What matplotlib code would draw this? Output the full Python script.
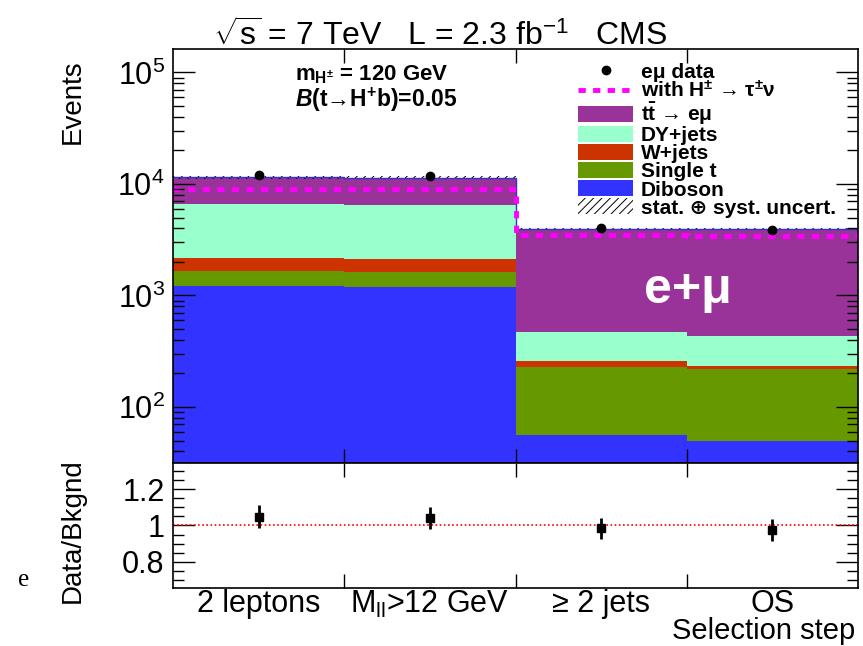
import numpy as np
import matplotlib
matplotlib.use("Agg")
import matplotlib.pyplot as plt
from matplotlib.patches import Patch
from matplotlib.lines import Line2D
from matplotlib.ticker import LogLocator, FixedLocator, FixedFormatter, MultipleLocator, NullFormatter

plt.rcParams['font.family'] = ['Liberation Sans', 'DejaVu Sans']
plt.rcParams['mathtext.fontset'] = 'custom'
plt.rcParams['mathtext.rm'] = 'Liberation Sans'
plt.rcParams['mathtext.it'] = 'Liberation Sans:italic:bold'
plt.rcParams['mathtext.bf'] = 'Liberation Sans:bold'
plt.rcParams['hatch.linewidth'] = 0.7

# selection steps
steps = ["2 leptons", "M$_{\\mathregular{ll}}$>12 GeV", "\u2265 2 jets", "OS"]

# background stack (bottom to top)
diboson = [1215, 1190, 56, 49.5]
single_t = [452, 432, 174, 172]
wjets = [493, 493, 29, 13]
dyjets = [4420, 4355, 209, 202]
ttbar = [4920, 4880, 3482, 3493]

# data and signal expectation
data = [12000, 11850, 4000, 3880]
with_hplus = [9000, 9000, 3480, 3420]
syst_frac = [0.03, 0.03, 0.025, 0.025]

# ratio panel
ratio = [1.049, 1.042, 0.985, 0.974]
ratio_err = [0.064, 0.062, 0.058, 0.060]

colors = {"Diboson": "#3333ff", "Single t": "#669900", "W+jets": "#cc3300",
          "DY+jets": "#99ffcc", "tt": "#993399"}

edges = np.arange(len(steps) + 1)
centers = edges[:-1] + 0.5

fig = plt.figure(figsize=(8.63, 6.46), dpi=100)
ax = fig.add_axes([0.2005, 0.2833, 0.7937, 0.6408])
rax = fig.add_axes([0.2005, 0.0898, 0.7937, 0.1935])

stack = [("Diboson", diboson), ("Single t", single_t), ("W+jets", wjets),
         ("DY+jets", dyjets), ("tt", ttbar)]
bottom = np.zeros(len(steps))
for name, vals in stack:
    vals = np.array(vals, dtype=float)
    ax.stairs(bottom + vals, edges, baseline=bottom, fill=True,
              color=colors[name], lw=0)
    bottom = bottom + vals
total = bottom

# uncertainty band
sf = np.array(syst_frac)
ax.stairs(total * (1 + sf), edges, baseline=total * (1 - sf), fill=True,
          facecolor="none", edgecolor="black", hatch="////", lw=0)
ax.stairs(total, edges, baseline=None, color="#3333cc", lw=1)

# signal
ax.stairs(with_hplus, edges, baseline=None, color="#ff00ff", lw=3.5, ls=(0, (1.5, 1.5)))

# data
ax.plot(centers, data, "o", color="black", ms=6)

ax.set_yscale("log")
ax.set_ylim(31.5, 1.62e5)
ax.set_xlim(0, 4)
ax.yaxis.set_major_locator(LogLocator(base=10, numticks=10))
ax.yaxis.set_minor_locator(LogLocator(base=10, subs=np.arange(2, 10), numticks=20))
ax.yaxis.set_minor_formatter(NullFormatter())
ax.xaxis.set_major_locator(FixedLocator(edges[1:-1]))
ax.set_xticklabels([])
ax.tick_params(axis="both", which="both", direction="in", top=True, right=True)
ax.tick_params(axis="y", which="major", length=16, width=1, labelsize=22, pad=6)
ax.tick_params(axis="y", which="minor", length=8, width=1)
ax.tick_params(axis="x", which="major", length=10, width=1)
ax.set_ylabel("Events", fontsize=20, loc="top")
ax.yaxis.set_label_coords(-0.128, 0.975)
for s in ax.spines.values():
    s.set_linewidth(1.2)

# ratio panel
rax.axhline(1.0, color="red", ls=(0, (1, 1.5)), lw=1.2)
rax.errorbar(centers, ratio, yerr=ratio_err, fmt="s", color="black", ms=6,
             elinewidth=2, capsize=0)
rax.set_xlim(0, 4)
rax.set_ylim(0.655, 1.345)
rax.yaxis.set_major_locator(FixedLocator([0.8, 1.0, 1.2]))
rax.set_yticklabels(["0.8", "1", "1.2"])
rax.yaxis.set_minor_locator(MultipleLocator(0.05))
rax.xaxis.set_major_locator(FixedLocator(edges[1:-1]))
rax.xaxis.set_minor_locator(FixedLocator(centers))
rax.set_xticklabels([])
rax.xaxis.set_minor_formatter(FixedFormatter(steps))
rax.tick_params(axis="both", which="both", direction="in", top=True, right=True)
rax.tick_params(axis="y", which="major", length=16, width=1, labelsize=22, pad=6)
rax.tick_params(axis="y", which="minor", length=8, width=1)
rax.tick_params(axis="x", which="major", length=10, width=1)
rax.tick_params(axis="x", which="minor", length=0, labelsize=22, pad=1)
rax.set_ylabel("Data/Bkgnd", fontsize=20)
rax.yaxis.set_label_coords(-0.128, 0.46)
for s in rax.spines.values():
    s.set_linewidth(1.2)

fig.text(855 / 863, 1 / 646, "Selection step", ha="right", va="bottom", fontsize=21)

# header and annotations
fig.text(213 / 863, 1 - 36 / 646, "$\\sqrt{\\mathrm{s}}$ = 7 TeV   L = 2.3 fb$^{-1}$   CMS",
         ha="left", va="center", fontsize=23)
fig.text(295 / 863, 1 - 75 / 646, "m$_{\\mathbf{H^{\\pm}}}$ = 120 GeV",
         ha="left", va="center", fontsize=16, fontweight="bold")
fig.text(295 / 863, 1 - 100 / 646, "$B$(t\u2192H$^{\\mathbf{+}}$b)=0.05",
         ha="left", va="center", fontsize=16.5, fontweight="bold")
fig.text(688 / 863, 1 - 290 / 646, "e+\u03bc", ha="center", va="center",
         fontsize=36, fontweight="bold", color="white")
fig.text(18 / 863, 1 - 580 / 646, "e", ha="left", va="center", fontsize=18,
         family="Liberation Serif")

handles = [
    Line2D([], [], marker="o", color="black", ls="none", ms=6),
    Line2D([], [], color="#ff00ff", lw=3.5, ls=(0, (1.5, 1.5))),
    Patch(facecolor=colors["tt"]),
    Patch(facecolor=colors["DY+jets"]),
    Patch(facecolor=colors["W+jets"]),
    Patch(facecolor=colors["Single t"]),
    Patch(facecolor=colors["Diboson"]),
    Patch(facecolor="none", edgecolor="black", hatch="////", lw=0),
]
labels = ["e\u03bc data", "with H$^{\\mathbf{\\pm}}$ \u2192 \u03c4$^{\\mathbf{\\pm}}$\u03bd",
          "t$\\mathbf{\\bar{t}}$ \u2192 e\u03bc", "DY+jets", "W+jets", "Single t", "Diboson",
          "stat. \u2295 syst. uncert."]
ax.legend(handles, labels, loc="upper left", bbox_to_anchor=(568 / 863, 1 - 52 / 646),
          bbox_transform=fig.transFigure, frameon=False,
          prop={"weight": "bold", "size": 15}, labelspacing=-0.05,
          handlelength=2.6, handleheight=0.8, handletextpad=0.4, borderpad=0)

fig.savefig("out.png", dpi=100)
